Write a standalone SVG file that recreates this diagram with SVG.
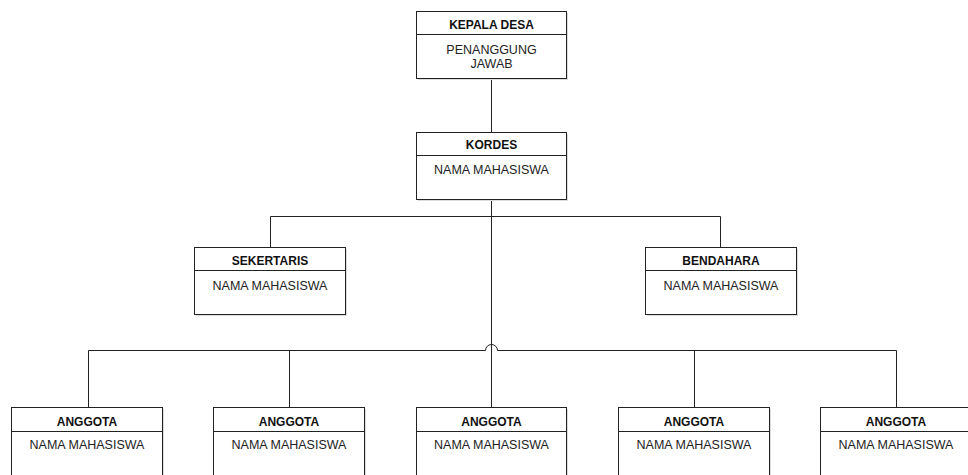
<svg xmlns="http://www.w3.org/2000/svg" width="968" height="475" viewBox="0 0 968 475">
<style>
.box{fill:#fff;stroke:#222;stroke-width:1}
.sh{fill:#dcdcdc}
.hd{font-family:"Liberation Sans",Arial,sans-serif;font-size:12px;font-weight:bold;fill:#111;text-anchor:middle}
.bd{font-family:"Liberation Sans",Arial,sans-serif;font-size:12.5px;fill:#222;text-anchor:middle}
.ln{fill:none;stroke:#222;stroke-width:1}
</style>
<rect width="968" height="475" fill="#fff"/>
<g id="connectors">
<path class="ln" d="M491.5 78.5V132"/>
<path class="ln" d="M491.5 199V407"/>
<path class="ln" d="M270.5 247V216.5H720.5V247"/>
<path class="ln" d="M88.5 407V350.5H485.5A6 6 0 0 1 497.5 350.5H896.5V407"/>
<path class="ln" d="M289.5 350.5V407"/>
<path class="ln" d="M694.5 350.5V407"/>
</g>
<g id="kepala">
<rect class="sh" x="418" y="13" width="150" height="67"/>
<rect class="box" x="416.5" y="11.5" width="150" height="67"/>
<line class="ln" x1="416.5" y1="34.5" x2="566.5" y2="34.5"/>
<text class="hd" x="491.5" y="29">KEPALA DESA</text>
<text class="bd" x="491.5" y="54">PENANGGUNG</text>
<text class="bd" x="491.5" y="68">JAWAB</text>
</g>
<g id="kordes">
<rect class="sh" x="418" y="134" width="150" height="67"/>
<rect class="box" x="416.5" y="132.5" width="150" height="67"/>
<line class="ln" x1="416.5" y1="155.5" x2="566.5" y2="155.5"/>
<text class="hd" x="491.5" y="149">KORDES</text>
<text class="bd" x="491.5" y="174">NAMA MAHASISWA</text>
</g>
<g id="sekertaris">
<rect class="sh" x="196" y="249" width="151" height="67"/>
<rect class="box" x="194.5" y="247.5" width="151" height="67"/>
<line class="ln" x1="194.5" y1="270.5" x2="345.5" y2="270.5"/>
<text class="hd" x="270" y="265">SEKERTARIS</text>
<text class="bd" x="270" y="290">NAMA MAHASISWA</text>
</g>
<g id="bendahara">
<rect class="sh" x="647" y="249" width="151" height="67"/>
<rect class="box" x="645.5" y="247.5" width="151" height="67"/>
<line class="ln" x1="645.5" y1="270.5" x2="796.5" y2="270.5"/>
<text class="hd" x="721" y="265">BENDAHARA</text>
<text class="bd" x="721" y="290">NAMA MAHASISWA</text>
</g>
<g id="anggota1">
<rect class="sh" x="13" y="409" width="151" height="80"/>
<rect class="box" x="11.5" y="407.5" width="151" height="80"/>
<line class="ln" x1="11.5" y1="431.5" x2="162.5" y2="431.5"/>
<text class="hd" x="87" y="426">ANGGOTA</text>
<text class="bd" x="87" y="449">NAMA MAHASISWA</text>
</g>
<g id="anggota2">
<rect class="sh" x="215" y="409" width="151" height="80"/>
<rect class="box" x="213.5" y="407.5" width="151" height="80"/>
<line class="ln" x1="213.5" y1="431.5" x2="364.5" y2="431.5"/>
<text class="hd" x="289" y="426">ANGGOTA</text>
<text class="bd" x="289" y="449">NAMA MAHASISWA</text>
</g>
<g id="anggota3">
<rect class="sh" x="418" y="409" width="150" height="80"/>
<rect class="box" x="416.5" y="407.5" width="150" height="80"/>
<line class="ln" x1="416.5" y1="431.5" x2="566.5" y2="431.5"/>
<text class="hd" x="491.5" y="426">ANGGOTA</text>
<text class="bd" x="491.5" y="449">NAMA MAHASISWA</text>
</g>
<g id="anggota4">
<rect class="sh" x="620" y="409" width="151" height="80"/>
<rect class="box" x="618.5" y="407.5" width="151" height="80"/>
<line class="ln" x1="618.5" y1="431.5" x2="769.5" y2="431.5"/>
<text class="hd" x="694" y="426">ANGGOTA</text>
<text class="bd" x="694" y="449">NAMA MAHASISWA</text>
</g>
<g id="anggota5">
<rect class="sh" x="822" y="409" width="151" height="80"/>
<rect class="box" x="820.5" y="407.5" width="151" height="80"/>
<line class="ln" x1="820.5" y1="431.5" x2="971.5" y2="431.5"/>
<text class="hd" x="896" y="426">ANGGOTA</text>
<text class="bd" x="896" y="449">NAMA MAHASISWA</text>
</g>
</svg>
